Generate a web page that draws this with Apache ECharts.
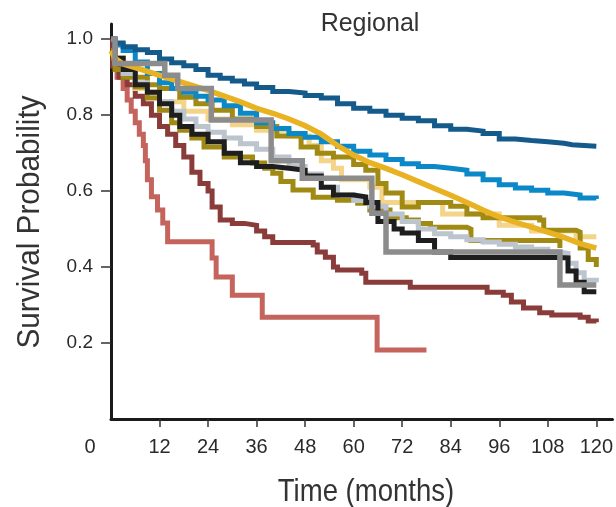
<!DOCTYPE html>
<html><head><meta charset="utf-8">
<script src="https://cdn.jsdelivr.net/npm/echarts@6/dist/echarts.min.js"></script>
<style>html,body{margin:0;padding:0;background:#fff}#c{width:616px;height:507px}</style>
</head><body><div id="c"></div>
<script>
const xTicks = [12,24,36,48,60,72,84,96,108,120];
const xLabels = [0,12,24,36,48,60,72,84,96,108,120];
const yTicks = [0.2,0.4,0.6,0.8,1.0];
const titleText = 'Regional';
const xTitle = 'Time (months)';
const yTitle = 'Survival Probability';

const darkBlueT = [0,1,3,6,9,12,15,18,21,24,27,30,33,36,40,44,48,52,56,60,64,68,72,76,80,84,88,92,96,100,104,108,112,114,120];
const darkBlueS = [1.0,0.99,0.98,0.972,0.965,0.948,0.938,0.93,0.92,0.905,0.897,0.89,0.882,0.873,0.862,0.858,0.852,0.845,0.83,0.818,0.81,0.8,0.792,0.785,0.772,0.763,0.758,0.752,0.737,0.733,0.73,0.726,0.722,0.718,0.718];

const blueT = [0,1,3,6,9,12,15,18,21,24,28,32,36,40,44,48,52,56,60,64,68,72,76,80,84,88,92,96,100,104,108,112,116,120];
const blueS = [1.0,0.985,0.97,0.94,0.91,0.885,0.87,0.86,0.85,0.84,0.825,0.805,0.78,0.765,0.752,0.742,0.73,0.718,0.705,0.695,0.683,0.672,0.665,0.66,0.655,0.645,0.63,0.617,0.608,0.602,0.595,0.59,0.582,0.579];

const goldT = [0,1,3,6,9,12,15,18,21,24,28,32,36,40,44,48,52,56,60,64,68,72,76,80,84,88,92,96,100,104,108,112,116,120];
const goldS = [0.97,0.95,0.935,0.925,0.915,0.905,0.895,0.885,0.875,0.865,0.85,0.835,0.818,0.805,0.79,0.772,0.75,0.72,0.695,0.675,0.66,0.643,0.625,0.607,0.589,0.57,0.55,0.532,0.518,0.505,0.492,0.478,0.462,0.45];

const grayT = [0,1,13.3,16.5,24.8,39.6,47.3,64.5,68,111,120];
const grayS = [1.0,0.936,0.905,0.87,0.787,0.68,0.634,0.542,0.44,0.353,0.353];

const blackT = [0,1,3,6,9,12,15,17,20,24,28,32,36,40,44,48,52,55,60,63,66,70,72,76,80,84,111,113,115,117,120];
const blackS = [1.0,0.95,0.92,0.88,0.86,0.83,0.8,0.77,0.75,0.73,0.7,0.675,0.665,0.66,0.655,0.64,0.61,0.59,0.585,0.57,0.52,0.5,0.49,0.47,0.44,0.425,0.424,0.39,0.36,0.335,0.335];

const silverT = [0,1,3,6,9,12,15,18,21,24,28,32,36,40,44,48,52,56,60,64,68,72,76,80,84,88,92,96,100,104,108,111,113,115,117,120];
const silverS = [1.0,0.94,0.91,0.885,0.86,0.835,0.81,0.79,0.77,0.755,0.74,0.725,0.71,0.69,0.665,0.645,0.61,0.59,0.575,0.56,0.54,0.52,0.5,0.488,0.48,0.472,0.466,0.46,0.453,0.447,0.44,0.436,0.41,0.385,0.365,0.36];

const paleT = [0,1,3,6,9,12,18,24,30,36,44,49,52,55,57,64,67,82,96,104,115,120];
const paleS = [1.0,0.95,0.92,0.87,0.85,0.835,0.81,0.79,0.775,0.76,0.745,0.72,0.68,0.66,0.63,0.61,0.57,0.54,0.51,0.495,0.48,0.48];

const olive1T = [0,1,3,6,9,12,17,21,25,30,36,41,47,51,55,60,63,66,68,72,76,84,88,92,106,107,115,116,118,120];
const olive1S = [0.97,0.95,0.93,0.9,0.88,0.87,0.847,0.83,0.813,0.79,0.77,0.745,0.716,0.7,0.69,0.67,0.655,0.62,0.595,0.558,0.57,0.56,0.54,0.53,0.524,0.497,0.492,0.45,0.42,0.4];

const olive2T = [0,1,3,6,9,12,15,17,20,23,28,35,38,40,42,45,50,56,61,64,69,73,76,79,88,89,110,111];
const olive2S = [0.95,0.92,0.9,0.874,0.845,0.813,0.78,0.76,0.74,0.716,0.69,0.674,0.66,0.647,0.625,0.603,0.584,0.576,0.568,0.55,0.53,0.524,0.515,0.505,0.5,0.47,0.47,0.45];

const darkRedT = [0,0.5,2,4,6,8,10,12,14,16,18,20,22,24,25,27,30,33,36,38,40,50,51,53,55,56,62,63,73,74,92,93,97,99,102,106,109,116,118,120];
const darkRedS = [1.0,0.93,0.9,0.88,0.85,0.83,0.8,0.77,0.75,0.72,0.69,0.65,0.62,0.6,0.558,0.524,0.515,0.51,0.495,0.48,0.465,0.458,0.44,0.426,0.4,0.392,0.384,0.36,0.36,0.347,0.347,0.334,0.326,0.308,0.292,0.28,0.274,0.268,0.258,0.255];

const salmonT = [0,0.5,1.5,3,4,5,6,7,8,8.5,9,10,11.5,12.8,14,25,26,30,37.4,65.8,78];
const salmonS = [1.0,0.93,0.9,0.87,0.84,0.81,0.78,0.75,0.72,0.68,0.63,0.585,0.55,0.516,0.467,0.424,0.374,0.326,0.268,0.182,0.182];

function pts(t, s){ return t.map((v,i)=>[v, s[i]]); }
function ser(name, t, s, color, w, step){
  return {name, type:'line', step: step===false ? false : 'end', smooth:false, data:pts(t,s), showSymbol:false, symbol:'none',
    lineStyle:{color, width:w||5, join:'miter', cap:'butt'}, itemStyle:{color}, animation:false, z:2};
}

const chart = echarts.init(document.getElementById('c'), null, {renderer:'canvas'});
const labelFont = 'Liberation Sans, Arial, sans-serif';
chart.setOption({
  animation:false,
  backgroundColor:'#ffffff',
  grid:{left:111, top:24, width:504, height:395, containLabel:false},
  xAxis:{type:'value', min:0, max:124, interval:12,
    axisLine:{show:true, onZero:false, lineStyle:{color:'#1a1a1a', width:3}},
    axisTick:{show:true, length:8, customValues:xTicks, lineStyle:{color:'#333', width:1.5}},
    axisLabel:{customValues:xLabels, margin:18, fontFamily:labelFont, fontSize:20, color:'#2a2a2a',
      formatter:v=> v===0 ? '{z|0}' : String(v),
      rich:{z:{padding:[0,42,0,0], fontFamily:labelFont, fontSize:20, color:'#2a2a2a'}}},
    splitLine:{show:false}},
  yAxis:{type:'value', min:0, max:1.04, interval:0.2,
    axisLine:{show:true, onZero:false, lineStyle:{color:'#1a1a1a', width:3}},
    axisTick:{show:true, length:10, customValues:yTicks, lineStyle:{color:'#333', width:1.5}},
    axisLabel:{customValues:yTicks, margin:18, fontFamily:labelFont, fontSize:19, color:'#2a2a2a',
      formatter:v=>v.toFixed(1)},
    splitLine:{show:false}},
  graphic:[
    {type:'text', x:370, y:24, style:{text:titleText, font:'25px Liberation Sans, Arial, sans-serif', fill:'#333', align:'center', verticalAlign:'middle'}},
    {type:'text', x:366, y:492, scaleX:0.86, style:{text:xTitle, font:'32px Liberation Sans, Arial, sans-serif', fill:'#333', align:'center', verticalAlign:'middle'}},
    {type:'text', x:30, y:222, rotation:Math.PI/2, scaleX:0.93, style:{text:yTitle, font:'32px Liberation Sans, Arial, sans-serif', fill:'#333', align:'center', verticalAlign:'middle'}}
  ],
  series:[
    ser('Salmon', salmonT, salmonS, '#c4645c'),
    ser('DarkRed', darkRedT, darkRedS, '#8a3c3a'),
    ser('Pale', paleT, paleS, '#f3d488'),
    ser('Olive1', olive1T, olive1S, '#a08a14'),
    ser('Olive2', olive2T, olive2S, '#a08a14'),
    ser('Silver', silverT, silverS, '#bcc4ce'),
    ser('Black', blackT, blackS, '#1e1e1e'),
    ser('Blue', blueT, blueS, '#0a88c8'),
    ser('DarkBlue', darkBlueT, darkBlueS, '#145a8a'),
    ser('Gold', goldT, goldS, '#e9b222', 5.5, false),
    ser('Gray', grayT, grayS, '#8c8c8c', 5.5)
  ]
});
</script></body></html>
